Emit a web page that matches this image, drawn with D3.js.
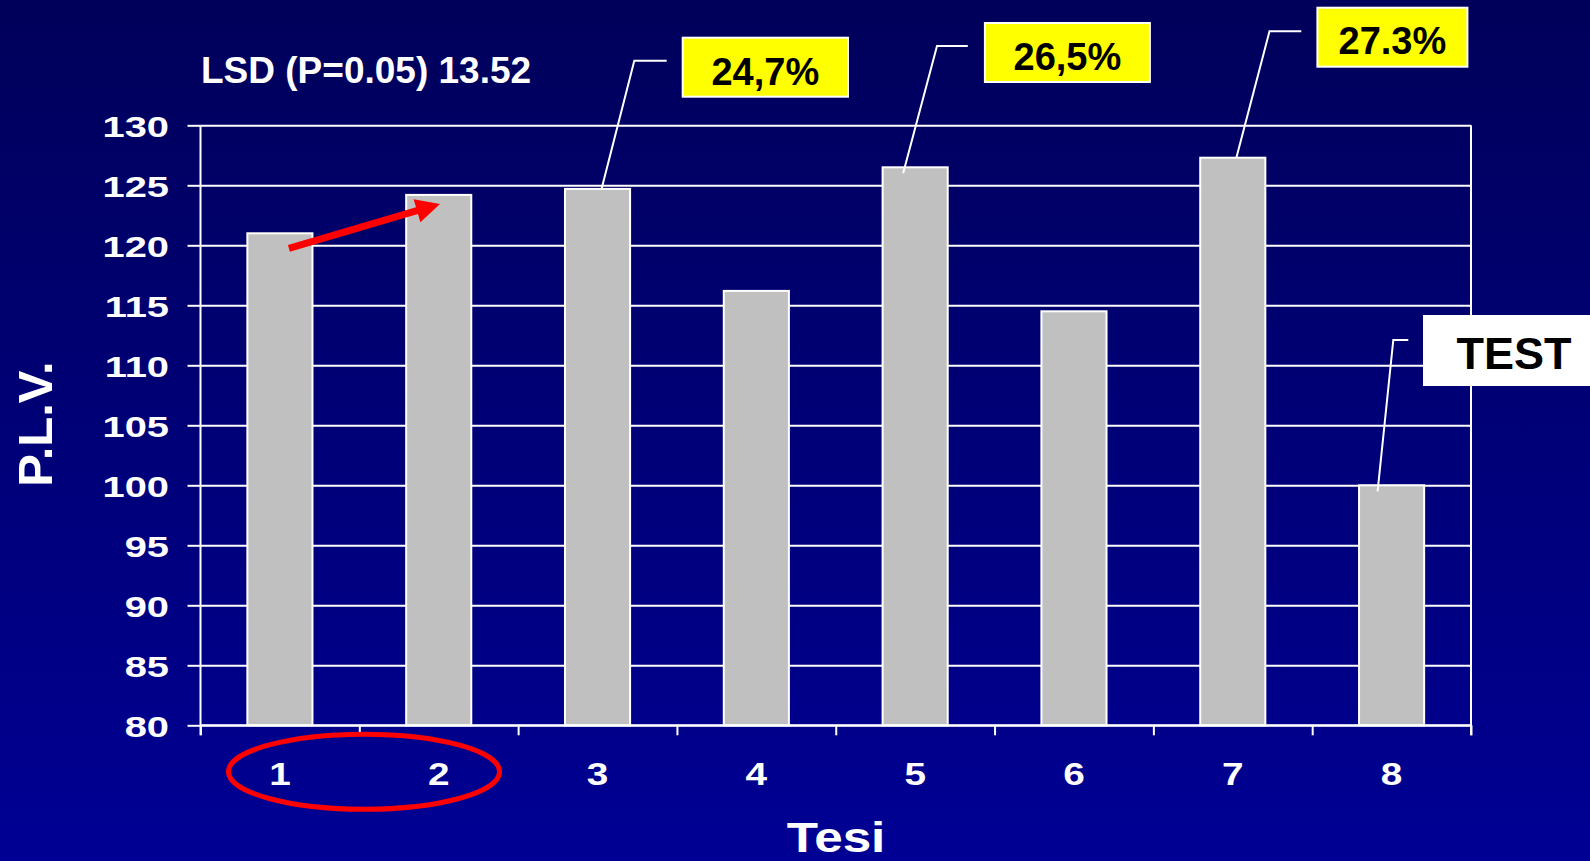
<!DOCTYPE html>
<html>
<head>
<meta charset="utf-8">
<script src="https://cdn.jsdelivr.net/npm/d3@7"></script>
<style>
  html, body { margin: 0; padding: 0; background: #000070; }
  svg { display: block; }
  text { font-family: "Liberation Sans", Arial, Helvetica, sans-serif; font-weight: bold; }
</style>
</head>
<body>
<svg id="chart" width="1590" height="861"></svg>
<script>
// Treatments (Tesi) and P.L.V. values
const categories = ["1", "2", "3", "4", "5", "6", "7", "8"];
const plv = [121.0, 124.2, 124.7, 116.2, 126.5, 114.5, 127.3, 100.0];
const yTicks = [80, 85, 90, 95, 100, 105, 110, 115, 120, 125, 130];

// Callout labels attached to bars
const calloutCats = ["3", "5", "7", "8"];
const calloutTexts = ["24,7%", "26,5%", "27.3%", "TEST"];

const lsdText = "LSD (P=0.05) 13.52";
const xTitle = "Tesi";
const yTitle = "P.L.V.";

const W = 1590, H = 861;
const svg = d3.select("#chart");

// background gradient
const defs = svg.append("defs");
const grad = defs.append("linearGradient").attr("id", "bg").attr("x1", 0).attr("y1", 0).attr("x2", 0).attr("y2", 1);
grad.append("stop").attr("offset", "0%").attr("stop-color", "#00005a");
grad.append("stop").attr("offset", "100%").attr("stop-color", "#000094");
svg.append("rect").attr("width", W).attr("height", H).attr("fill", "url(#bg)");

const plot = { left: 200.5, right: 1471, top: 125.3, bottom: 725.3 };

const x = d3.scaleBand().domain(categories)
  .range([plot.left, plot.right])
  .paddingInner(0.59).paddingOuter(0.295);
const xEdge = d3.scaleLinear().domain([0, categories.length]).range([plot.left, plot.right]);
const y = d3.scaleLinear().domain([80, 130]).range([plot.bottom, plot.top]);

// horizontal grid lines
const grid = svg.append("g").attr("transform", `translate(${plot.left},0)`)
  .call(d3.axisLeft(y).tickValues(yTicks).tickSize(-(plot.right - plot.left)).tickFormat(""));
grid.select(".domain").remove();
grid.selectAll("line").attr("stroke", "#ffffff").attr("stroke-width", 2);

// right border line
svg.append("line")
  .attr("x1", plot.right).attr("x2", plot.right)
  .attr("y1", plot.top).attr("y2", plot.bottom + 10)
  .attr("stroke", "#ffffff").attr("stroke-width", 2);

// bars
svg.append("g").selectAll("rect").data(plv).join("rect")
  .attr("x", (d, i) => x(categories[i]))
  .attr("y", d => y(d))
  .attr("width", x.bandwidth())
  .attr("height", d => y(80) - y(d))
  .attr("fill", "#c0c0c0")
  .attr("stroke", "#ffffff")
  .attr("stroke-width", 2);

// y axis
const yAxis = svg.append("g").attr("transform", `translate(${plot.left},0)`)
  .call(d3.axisLeft(y).tickValues(yTicks).tickSize(13).tickSizeOuter(0));
yAxis.select(".domain").attr("stroke", "#ffffff").attr("stroke-width", 2)
  .attr("d", `M0,${plot.top}V${plot.bottom + 10}`);
yAxis.selectAll("line").attr("stroke", "#ffffff").attr("stroke-width", 2);
yAxis.selectAll("text")
  .attr("x", null).attr("dy", null)
  .attr("text-anchor", "end")
  .attr("transform", "translate(-31.5,11) scale(1.33,1)")
  .attr("fill", "#ffffff")
  .style("font-size", "30px");

// x axis: boundary ticks
const xTickAxis = svg.append("g").attr("transform", `translate(0,${plot.bottom})`)
  .call(d3.axisBottom(xEdge).tickValues(d3.range(0, categories.length + 1)).tickSize(10).tickFormat(""));
xTickAxis.select(".domain").attr("stroke", "#ffffff").attr("stroke-width", 2)
  .attr("d", `M${plot.left},0H${plot.right}`);
xTickAxis.selectAll("line").attr("stroke", "#ffffff").attr("stroke-width", 2);

// x axis: category labels
const xAxis = svg.append("g").attr("transform", `translate(0,${plot.bottom})`)
  .call(d3.axisBottom(x).tickSize(0));
xAxis.select(".domain").remove();
xAxis.selectAll("text")
  .attr("y", null).attr("dy", null)
  .attr("transform", "translate(0,59.7) scale(1.25,1)")
  .attr("fill", "#ffffff")
  .style("font-size", "31px");

// axis titles
svg.append("text")
  .attr("text-anchor", "middle")
  .attr("transform", "translate(836,852) scale(1.22,1)")
  .attr("fill", "#ffffff").style("font-size", "42px")
  .text(xTitle);

svg.append("text")
  .attr("text-anchor", "middle")
  .attr("transform", "translate(51.7,424) rotate(-90)")
  .attr("fill", "#ffffff").style("font-size", "49px")
  .text(yTitle);

// LSD note
svg.append("text")
  .attr("x", 201).attr("y", 82.7)
  .attr("fill", "#ffffff").style("font-size", "37px")
  .text(lsdText);

// callouts: box, leader line (start offset from bar top, elbow, end)
const calloutBoxes = [
  { x: 682.7, y: 37.7, w: 165.3, h: 59, fill: "#ffff00", size: 38, base: 47.3 },
  { x: 984.9, y: 23, w: 165, h: 59, fill: "#ffff00", size: 38, base: 47.3 },
  { x: 1317.4, y: 7.7, w: 150, h: 59, fill: "#ffff00", size: 38, base: 46.6 },
  { x: 1423, y: 315, w: 200, h: 71, fill: "#ffffff", size: 45, base: 54, tx: 1514 }
];
const leaders = [
  { dx: 4, dy: 0, ex: 634.3, ey: 60.7, endX: 666.7 },
  { dx: -12, dy: 6, ex: 937, ey: 46, endX: 967.8 },
  { dx: 3.6, dy: 0, ex: 1269.5, ey: 31.3, endX: 1301.3 },
  { dx: -14, dy: 6, ex: 1393.3, ey: 340, endX: 1408.3 }
];

const callouts = svg.append("g");
calloutCats.forEach((c, i) => {
  const idx = categories.indexOf(c);
  const cx = x(c) + x.bandwidth() / 2;
  const L = leaders[i];
  const sx = cx + L.dx, sy = y(plv[idx]) + L.dy;
  callouts.append("path")
    .attr("d", `M${sx},${sy}L${L.ex},${L.ey}L${L.endX},${L.ey}`)
    .attr("fill", "none").attr("stroke", "#ffffff").attr("stroke-width", 2);
  const b = calloutBoxes[i];
  callouts.append("rect")
    .attr("x", b.x).attr("y", b.y).attr("width", b.w).attr("height", b.h)
    .attr("fill", b.fill)
    .attr("stroke", b.fill === "#ffffff" ? "none" : "#ffffff").attr("stroke-width", 2);
  callouts.append("text")
    .attr("x", b.tx !== undefined ? b.tx : b.x + b.w / 2)
    .attr("y", b.y + b.base)
    .attr("text-anchor", "middle")
    .attr("fill", "#000000").style("font-size", b.size + "px")
    .text(calloutTexts[i]);
});

// red arrow from treatment 1 to treatment 2
(function () {
  const c1 = x("1") + x.bandwidth() / 2, c2 = x("2") + x.bandwidth() / 2;
  const tail = [c1 + 9, y(plv[0]) + 15];
  const tip = [c2 + 1.3, y(plv[1]) + 9];
  const ang = Math.atan2(tip[1] - tail[1], tip[0] - tail[0]);
  const ux = Math.cos(ang), uy = Math.sin(ang), px = -uy, py = ux;
  const shaftW = 7, headL = 24, headW = 24;
  const bx = tip[0] - ux * headL, by = tip[1] - uy * headL;
  const pts = [
    [tail[0] + px * shaftW / 2, tail[1] + py * shaftW / 2],
    [bx + px * shaftW / 2, by + py * shaftW / 2],
    [bx + px * headW / 2, by + py * headW / 2],
    tip,
    [bx - px * headW / 2, by - py * headW / 2],
    [bx - px * shaftW / 2, by - py * shaftW / 2],
    [tail[0] - px * shaftW / 2, tail[1] - py * shaftW / 2]
  ];
  svg.append("path").attr("d", d3.line()(pts) + "Z").attr("fill", "#ff0000");
})();

// red ellipse around treatments 1 and 2
svg.append("ellipse")
  .attr("cx", xEdge(1) + 4.7).attr("cy", 771.7)
  .attr("rx", 135.5).attr("ry", 37.5)
  .attr("fill", "none").attr("stroke", "#ff0000").attr("stroke-width", 5);
</script>
</body>
</html>
